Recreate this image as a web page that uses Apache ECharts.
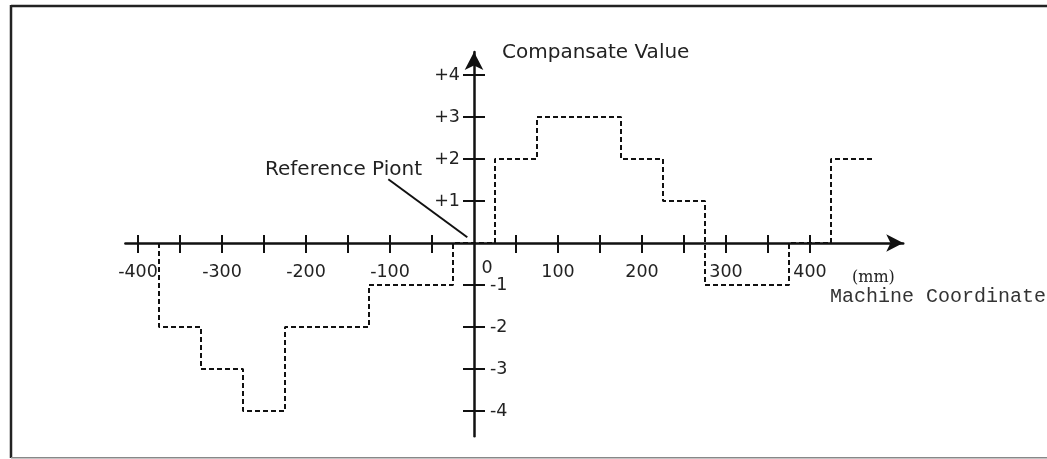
<!DOCTYPE html>
<html>
<head>
<meta charset="utf-8">
<script src="https://cdn.jsdelivr.net/npm/echarts@6/dist/echarts.min.js"></script>
<style>
  html, body { margin: 0; padding: 0; background: #fff; }
  #chart { width: 1047px; height: 459px; }
</style>
</head>
<body>
<div id="chart"></div>
<script>
// ---- data ----
// step boundaries along the machine coordinate (mm) and the compensation value that starts there
const stepX = [-375, -325, -275, -225, -125, -25, 25, 75, 175, 225, 275, 375, 425, 475];
const stepY = [0, -2, -3, -4, -2, -1, 0, 2, 3, 2, 1, -1, 0, 2];
// x tick marks / labels
const xTicks = [-400, -350, -300, -250, -200, -150, -100, -50, 50, 100, 150, 200, 250, 300, 350, 400];
const xLabels = [-400, -300, -200, -100, 100, 200, 300, 400];
// y tick marks / labels
const yTicks = [-4, -3, -2, -1, 1, 2, 3, 4];
const yLabelsPos = [1, 2, 3, 4];
const yLabelsNeg = [-4, -3, -2, -1];
// reference point pointer line (data coords)
const refLine = [[-102, 1.517], [-8, 0.136]];

const stepData = stepX.map((x, i) => [x, stepY[i]]);

const INK = '#111';
const TXT = '#222';
const tickFont = '"DejaVu Sans", sans-serif';

// grid / axis ranges
const X_MIN = -415, X_MAX = 511, Y_MIN = -4.6, Y_MAX = 4.55;
const G_LEFT = 125.4, G_TOP = 51.9, G_W = 777.84, G_H = 384.3;
// shift the axes from the grid edges onto the zero lines
const yOff = -(0 - X_MIN) / (X_MAX - X_MIN) * G_W;
const xOff = -(0 - Y_MIN) / (Y_MAX - Y_MIN) * G_H;

const chart = echarts.init(document.getElementById('chart'), null, { renderer: 'canvas' });

const axisLineBase = { show: true, onZero: false, lineStyle: { color: INK, width: 2.5 } };

chart.setOption({
  animation: false,
  backgroundColor: '#fff',
  grid: { left: G_LEFT, top: G_TOP, width: G_W, height: G_H, containLabel: false, outerBoundsMode: 'none' },
  xAxis: [
    {
      type: 'value', min: X_MIN, max: X_MAX, position: 'bottom', offset: xOff, z: 4,
      axisLine: Object.assign({}, axisLineBase, { symbol: ['none', 'arrow'], symbolSize: [13, 17] }),
      axisTick: { show: true, customValues: xTicks, length: 10, inside: false, lineStyle: { color: INK, width: 2 } },
      axisLabel: { show: true, customValues: xLabels, margin: 20, fontSize: 17.5, fontFamily: tickFont, color: TXT },
      splitLine: { show: false }
    },
    {
      type: 'value', min: X_MIN, max: X_MAX, position: 'bottom', offset: xOff, z: 4,
      axisLine: { show: false },
      axisTick: { show: true, customValues: xTicks, length: 10, inside: true, lineStyle: { color: INK, width: 2 } },
      axisLabel: {
        show: true, customValues: [0], margin: 16,
        formatter: v => '{z|' + v + '}',
        rich: { z: { fontSize: 17.5, fontFamily: tickFont, color: TXT, padding: [0, 0, 0, 26] } }
      },
      splitLine: { show: false }
    }
  ],
  yAxis: [
    {
      type: 'value', min: Y_MIN, max: Y_MAX, position: 'left', offset: yOff, z: 4,
      axisLine: Object.assign({}, axisLineBase, { symbol: ['none', 'arrow'], symbolSize: [14, 18] }),
      axisTick: { show: true, customValues: yTicks, length: 11, inside: false, lineStyle: { color: INK, width: 2 } },
      axisLabel: { show: true, customValues: yLabelsPos, margin: 14, fontSize: 17.5, fontFamily: tickFont, color: TXT,
        formatter: v => '+' + v },
      splitLine: { show: false }
    },
    {
      type: 'value', min: Y_MIN, max: Y_MAX, position: 'left', offset: yOff, z: 4,
      axisLine: { show: false },
      axisTick: { show: true, customValues: yTicks, length: 11, inside: true, lineStyle: { color: INK, width: 2 } },
      axisLabel: { show: true, inside: true, customValues: yLabelsNeg, margin: 16, fontSize: 17.5, fontFamily: tickFont, color: TXT,
        formatter: v => String(v) },
      splitLine: { show: false }
    }
  ],
  series: [
    {
      type: 'line', xAxisIndex: 0, yAxisIndex: 0, step: 'start',
      data: stepData, showSymbol: false, symbol: 'none', silent: true, z: 2,
      lineStyle: { color: INK, width: 2, type: [5, 3] }
    },
    {
      type: 'line', xAxisIndex: 0, yAxisIndex: 0,
      data: refLine, showSymbol: false, symbol: 'none', silent: true, z: 2,
      lineStyle: { color: INK, width: 2, type: 'solid' }
    }
  ],
  graphic: [
    { type: 'line', shape: { x1: 11, y1: 6, x2: 1047, y2: 6 }, style: { stroke: '#222', lineWidth: 2.5 }, silent: true },
    { type: 'line', shape: { x1: 11, y1: 5, x2: 11, y2: 458 }, style: { stroke: '#222', lineWidth: 2.5 }, silent: true },
    { type: 'line', shape: { x1: 11, y1: 457.8, x2: 1047, y2: 457.8 }, style: { stroke: '#888', lineWidth: 1.5 }, silent: true },
    { type: 'text', style: { text: 'Compansate Value', x: 502, y: 53, verticalAlign: 'middle', align: 'left',
        font: '20px "DejaVu Sans", sans-serif', fill: TXT }, silent: true },
    { type: 'text', style: { text: 'Reference Piont', x: 265, y: 170, verticalAlign: 'middle', align: 'left',
        font: '20px "DejaVu Sans", sans-serif', fill: TXT }, silent: true },
    { type: 'text', style: { text: '(mm)', x: 852, y: 278, verticalAlign: 'middle', align: 'left',
        font: '16px "DejaVu Serif", serif', fill: TXT }, silent: true },
    { type: 'text', style: { text: 'Machine Coordinate', x: 830, y: 297, verticalAlign: 'middle', align: 'left',
        font: '20px "Liberation Mono", monospace', fill: '#333' }, silent: true }
  ]
});
</script>
</body>
</html>
